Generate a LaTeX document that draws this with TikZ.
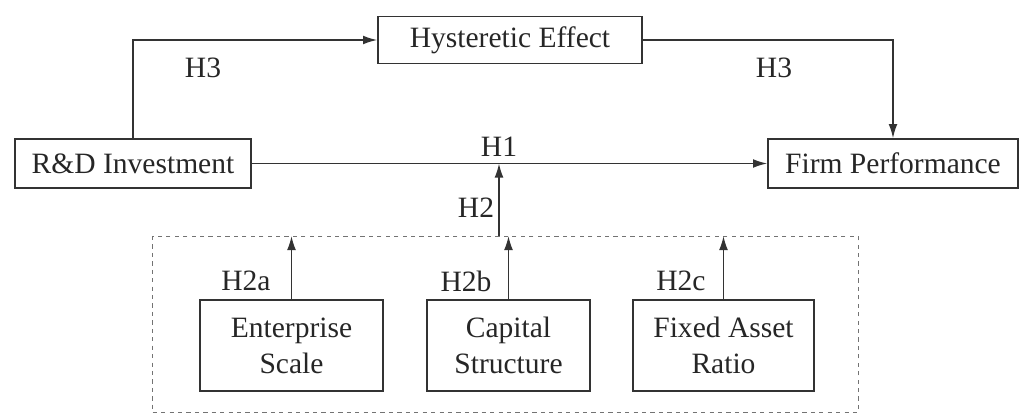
\documentclass[tikz,border=0pt]{standalone}
\usepackage{fontspec}
\setmainfont{Liberation Serif}
\usetikzlibrary{arrows.meta}

\begin{document}
\begin{tikzpicture}[x=0.025cm, y=-0.025cm,
  font=\fontsize{21}{25.6}\selectfont,
  box/.style={draw=black!80, line width=1.3pt, inner sep=0pt, align=center, text=black!85},
  arr/.style={draw=black!80, line width=1pt, -{Latex[length=3.5mm,width=2.2mm]}},
  lbl/.style={text=black!85, inner sep=0pt}]
  \useasboundingbox (0,0) rectangle (1022,414);
  \node[box, minimum width=6.6cm, minimum height=1.175cm] (hyst) at (510,40) {Hysteretic Effect};
  \node[box, minimum width=5.9cm, minimum height=1.225cm] (rd) at (133,163.5) {R\&D Investment};
  \node[box, minimum width=6.25cm, minimum height=1.225cm] (firm) at (893,163.5) {Firm Performance};
  \node[box, minimum width=4.575cm, minimum height=2.275cm] (scale) at (291.5,345.5) {Enterprise\\Scale};
  \node[box, minimum width=4.075cm, minimum height=2.275cm] (capital) at (508.5,345.5) {Capital\\Structure};
  \node[box, minimum width=4.525cm, minimum height=2.275cm] (fixed) at (723.5,345.5) {Fixed Asset\\Ratio};
  \draw[black!55, dashed, line width=0.6pt] (152,236) rectangle (858,412.5);
  \coordinate (mod) at (499,236);
  \draw[arr] (rd.north) |- (hyst.west);
  \draw[arr] (hyst.east) -| (firm.north);
  \draw[arr] (rd.east) -- (firm.west);
  \draw[arr] (mod) -- (mod |- rd.east);
  \draw[arr] (scale.north) -- (scale.north |- mod);
  \draw[arr] (capital.north) -- (capital.north |- mod);
  \draw[arr] (fixed.north) -- (fixed.north |- mod);
  \node[lbl] (h3a) at (203,68) {H3};
  \node[lbl] (h3b) at (774,68) {H3};
  \node[lbl] (h1) at (499,147) {H1};
  \node[lbl] (h2) at (476,208) {H2};
  \node[lbl] (h2a) at (246,281) {H2a};
  \node[lbl] (h2b) at (466,281) {H2b};
  \node[lbl] (h2c) at (681,281) {H2c};
\end{tikzpicture}
\end{document}
